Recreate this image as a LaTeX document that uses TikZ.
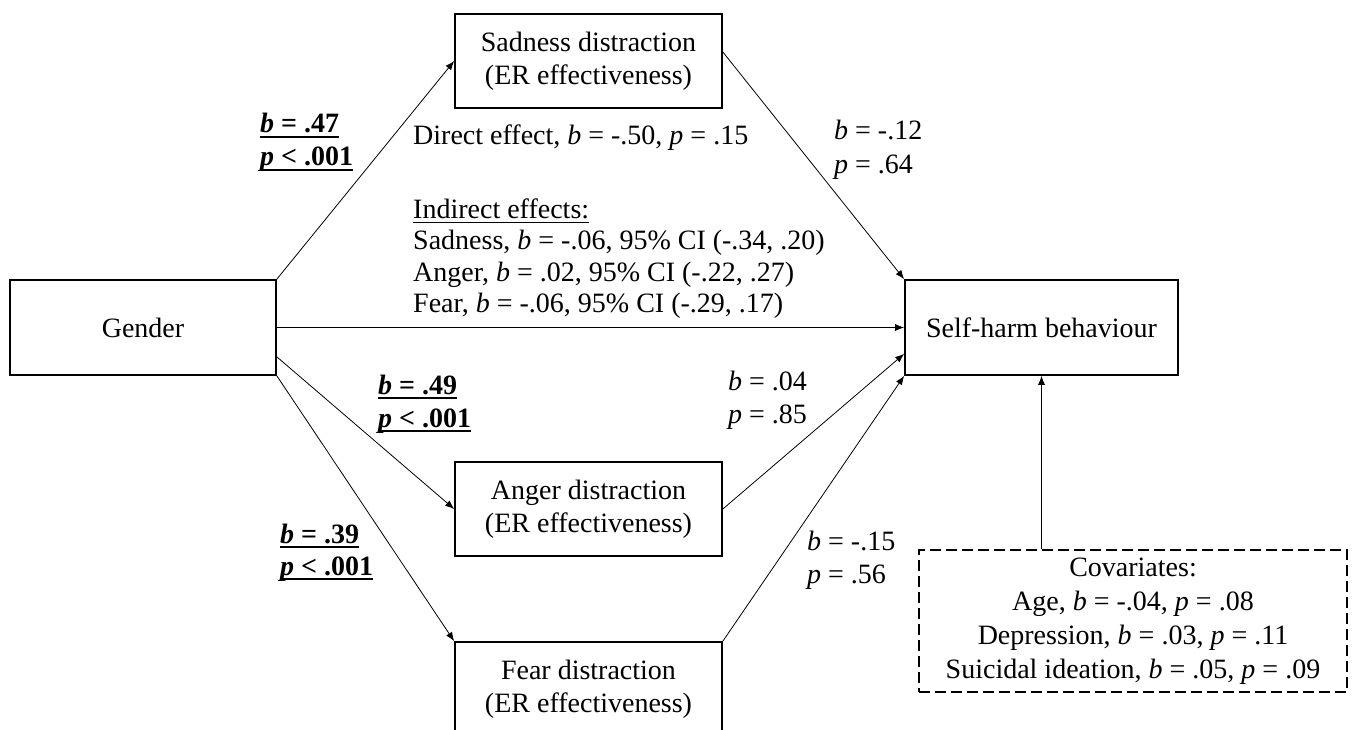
\documentclass[tikz,border=0pt]{standalone}
\usepackage{fontspec}
\setmainfont{Liberation Serif}
\usetikzlibrary{arrows.meta}

% underlined label texts: heavy rule for the significant paths, thin rule for headings
\newcommand{\ulbold}[1]{\setbox0=\hbox{#1}\rlap{\rule[-5pt]{\wd0}{2pt}}\box0}
\newcommand{\ulthin}[1]{\setbox0=\hbox{#1}\rlap{\rule[-4pt]{\wd0}{1.2pt}}\box0}

\begin{document}
\begin{tikzpicture}[x=1pt,y=-1pt,
  font=\fontsize{28}{31}\selectfont,
  box/.style={draw, line width=1.7pt, inner sep=0pt, align=center,
    minimum width=267pt, minimum height=94pt,
    font=\fontsize{28}{33}\selectfont},
  covbox/.style={draw, dash pattern=on 11pt off 5pt, line width=1.2pt,
    inner sep=0pt, align=center, minimum width=428pt, minimum height=142pt,
    font=\fontsize{28}{34}\selectfont},
  link/.style={-{Latex[length=9pt,width=7pt]}, line width=0.8pt},
  lab/.style={anchor=base west, inner sep=0pt}]

\useasboundingbox (0,0) rectangle (1355,730);

% variables
\node[box, minimum width=266pt, minimum height=95pt] (gender) at (143,327.5) {Gender};
\node[box] (sad) at (588.5,61) {Sadness distraction\\(ER effectiveness)};
\node[box] (anger) at (588.5,509) {Anger distraction\\(ER effectiveness)};
\node[box] (fear) at (588.5,689) {Fear distraction\\(ER effectiveness)};
\node[box, minimum width=273pt, minimum height=95pt] (self) at (1041.5,327.5) {Self-harm behaviour};
\node[covbox] (cov) at (1133,621) {Covariates:\\
  Age, \textit{b} = -.04, \textit{p} = .08\\
  Depression, \textit{b} = .03, \textit{p} = .11\\
  Suicidal ideation, \textit{b} = .05, \textit{p} = .09};

% paths
\draw[link] (gender.north east) -- (sad.west);
\draw[link] (gender.east) -- (self.west);
\draw[link] ([yshift=19pt]gender.south east) -- (anger.west);
\draw[link] (gender.south east) -- (fear.north west);
\draw[link] ([yshift=9pt]sad.east) -- (self.north west);
\draw[link] (anger.east) -- ([yshift=22pt]self.south west);
\draw[link] (fear.north east) -- (self.south west);
\draw[link] (cov.north -| self.south) -- (self.south);

% path coefficients
\node[lab] (a1b) at (260,133) {\ulbold{\textbf{\textit{b} = .47}}};
\node[lab] (a1p) at (260,166) {\ulbold{\textbf{\textit{p} < .001}}};
\node[lab] (a2b) at (378,394) {\ulbold{\textbf{\textit{b} = .49}}};
\node[lab] (a2p) at (378,427) {\ulbold{\textbf{\textit{p} < .001}}};
\node[lab] (a3b) at (280,543) {\ulbold{\textbf{\textit{b} = .39}}};
\node[lab] (a3p) at (280,575) {\ulbold{\textbf{\textit{p} < .001}}};

\node[lab] (b1b) at (834,140) {\textit{b} = -.12};
\node[lab] (b1p) at (834,174) {\textit{p} = .64};
\node[lab] (b2b) at (728,390) {\textit{b} = .04};
\node[lab] (b2p) at (728,423) {\textit{p} = .85};
\node[lab] (b3b) at (807,550) {\textit{b} = -.15};
\node[lab] (b3p) at (807,583) {\textit{p} = .56};

% direct and indirect effects
\node[lab] (direct) at (413,145) {Direct effect, \textit{b} = -.50, \textit{p} = .15};
\node[lab] (ind) at (413,219) {\ulthin{Indirect effects:}};
\node[lab] (ind1) at (413,250) {Sadness, \textit{b} = -.06, 95\% CI (-.34, .20)};
\node[lab] (ind2) at (413,281) {Anger, \textit{b} = .02, 95\% CI (-.22, .27)};
\node[lab] (ind3) at (413,312) {Fear, \textit{b} = -.06, 95\% CI (-.29, .17)};

\end{tikzpicture}
\end{document}
